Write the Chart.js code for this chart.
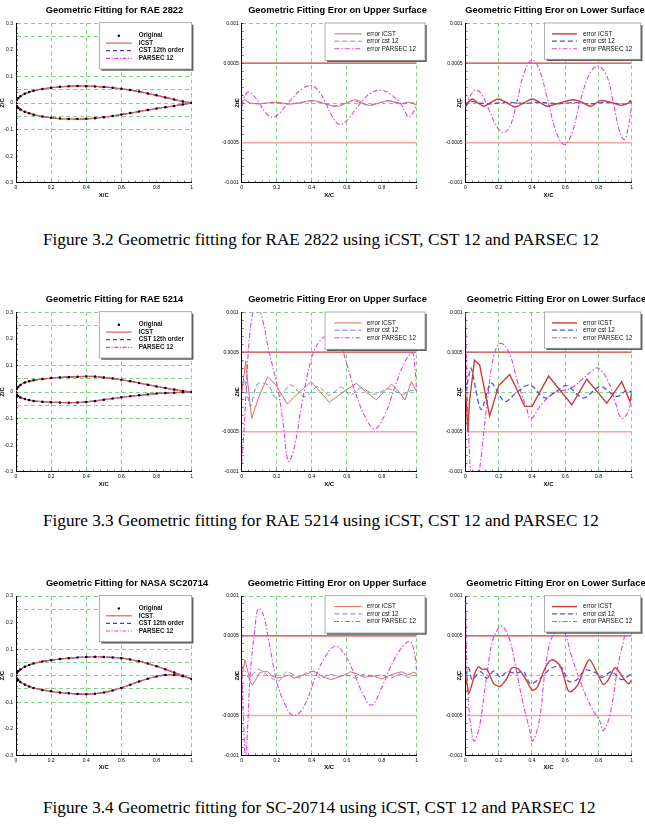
<!DOCTYPE html>
<html>
<head>
<meta charset="utf-8">
<script src="https://cdn.jsdelivr.net/npm/chart.js@4.4.1/dist/chart.umd.min.js"></script>
<style>
html, body { margin: 0; padding: 0; background: #fff; overflow: hidden; width: 645px; height: 825px; }
canvas { position: absolute; }
.caption { position: absolute; left: 43px; line-height: 20px; font-family: 'Liberation Serif', 'Times New Roman', serif; font-size: 17.2px; color: #000; white-space: nowrap; }
</style>
</head>
<body>
<div class="caption" style="top:230px">Figure 3.2 Geometric fitting for RAE 2822 using iCST, CST 12 and PARSEC 12</div>
<div class="caption" style="top:511px">Figure 3.3 Geometric fitting for RAE 5214 using iCST, CST 12 and PARSEC 12</div>
<div class="caption" style="top:798px">Figure 3.4 Geometric fitting for SC-20714 using iCST, CST 12 and PARSEC 12</div>
<script>
Chart.defaults.font.family = "'Liberation Sans', Arial, sans-serif";
Chart.defaults.color = '#000';

// axis ticks
const xTickMajor = [0, 0.2, 0.4, 0.6, 0.8, 1];
const shapeYMajor = [-0.3, -0.2, -0.1, 0, 0.1, 0.2, 0.3];
const shapeYGrid = [0.3, 0.25, 0.1, 0.05, 0, -0.05, -0.1];
const errYMajor = [-0.001, -0.0005, 0, 0.0005, 0.001];
const errYGrid = [0.001, 0];
const errLimits = [0.0005, -0.0005];
const xGridMid = [0.2, 0.4, 0.6, 1];
const xGridRight = [0.2, 0.4, 0.6, 0.8, 1];

// airfoil stations and surfaces
const foilX = [0, 0.005, 0.0125, 0.025, 0.05, 0.075, 0.1, 0.15, 0.2, 0.25, 0.3, 0.35, 0.4, 0.45, 0.5, 0.55, 0.6, 0.65, 0.7, 0.75, 0.8, 0.85, 0.9, 0.95, 1];
const rae2822Upper = [0, 0.0117, 0.018, 0.0251, 0.0346, 0.041, 0.0459, 0.053, 0.0578, 0.061, 0.0628, 0.0636, 0.0634, 0.0623, 0.0603, 0.0574, 0.0535, 0.0487, 0.0429, 0.0362, 0.0289, 0.0211, 0.0133, 0.0058, 0.0006];
const rae2822Lower = [0, -0.011, -0.0175, -0.0245, -0.033, -0.039, -0.044, -0.051, -0.0555, -0.0585, -0.06, -0.0603, -0.0595, -0.057, -0.0535, -0.049, -0.0435, -0.038, -0.032, -0.0265, -0.021, -0.016, -0.011, -0.0055, 0];
const rae5214Upper = [0, 0.012, 0.019, 0.0265, 0.0355, 0.0405, 0.044, 0.049, 0.0525, 0.0548, 0.0565, 0.0577, 0.0585, 0.058, 0.055, 0.051, 0.046, 0.0405, 0.034, 0.0275, 0.021, 0.015, 0.009, 0.0042, 0];
const rae5214Lower = [0, -0.01, -0.015, -0.0205, -0.0265, -0.0305, -0.0335, -0.0365, -0.0385, -0.0395, -0.04, -0.0395, -0.0375, -0.0335, -0.029, -0.0245, -0.02, -0.016, -0.0125, -0.009, -0.006, -0.004, -0.0025, -0.0012, 0];
const sc20714Upper = [0, 0.0105, 0.0165, 0.0235, 0.0335, 0.0405, 0.046, 0.0535, 0.0585, 0.0625, 0.0658, 0.0685, 0.0702, 0.0712, 0.0703, 0.0687, 0.066, 0.061, 0.0545, 0.0455, 0.0355, 0.024, 0.012, 0, -0.012];
const sc20714Lower = [0, -0.0105, -0.0165, -0.0235, -0.0335, -0.0405, -0.046, -0.0535, -0.059, -0.0635, -0.0665, -0.0685, -0.0695, -0.068, -0.063, -0.0555, -0.046, -0.034, -0.022, -0.0115, -0.003, 0.003, 0.003, -0.002, -0.012];

// fitting errors, [x/c, error in units of 1e-4]
const ERR_UNIT = 1e-4;
const rae2822UpIcst = [[0,0],[0.015,0.45],[0.04,0.05],[0.1,-0.1],[0.2,0.1],[0.28,-0.15],[0.4,0.3],[0.46,0.05],[0.54,-0.45],[0.6,0],[0.65,0.4],[0.73,-0.3],[0.8,0.1],[0.84,0.3],[0.9,-0.1],[0.96,0.1],[1,-0.3]];
const rae2822UpCst = [[0,-0.5],[0.02,0.3],[0.05,0],[0.1,-0.1],[0.18,0.1],[0.25,-0.1],[0.33,0.05],[0.4,0.25],[0.46,0],[0.53,-0.35],[0.6,0.05],[0.64,0.3],[0.72,-0.25],[0.8,0.1],[0.85,0.25],[0.92,-0.1],[0.97,0.05],[1,-0.2]];
const rae2822UpParsec = [[0,-0.2],[0.015,0.8],[0.038,1.4],[0.065,1.0],[0.1,0],[0.14,-1.3],[0.175,-1.8],[0.21,-1.4],[0.25,-0.4],[0.29,0.6],[0.34,1.7],[0.396,2.2],[0.44,1.5],[0.48,0],[0.52,-1.8],[0.56,-2.7],[0.61,-2.0],[0.65,-0.8],[0.69,0.3],[0.74,1.3],[0.8,1.6],[0.85,1.1],[0.905,0],[0.935,-1.2],[0.955,-1.75],[0.98,-1.2],[1,0]];
const rae2822LoIcst = [[0,-0.3],[0.04,0.5],[0.075,0],[0.11,-0.4],[0.155,0.1],[0.2,0.5],[0.25,0],[0.3,-0.5],[0.35,0],[0.4,0.5],[0.445,0.1],[0.49,-0.4],[0.55,-0.1],[0.6,0.2],[0.65,0.4],[0.7,0.1],[0.75,-0.4],[0.78,-0.1],[0.81,0.3],[0.87,0.1],[0.94,-0.3],[0.98,0],[0.99,0.3],[1,0]];
const rae2822LoCst = [[0,-0.5],[0.03,0.2],[0.08,0],[0.15,-0.1],[0.25,0.1],[0.35,-0.05],[0.45,0.1],[0.55,-0.1],[0.65,0.05],[0.75,-0.1],[0.85,0.1],[0.95,-0.15],[1,0.05]];
const rae2822LoParsec = [[0,-0.4],[0.02,0.5],[0.045,1.4],[0.066,1.65],[0.1,1.0],[0.14,-0.8],[0.19,-3.0],[0.23,-3.7],[0.27,-2.8],[0.31,0.2],[0.35,3.6],[0.4,5.4],[0.44,4.4],[0.49,0.8],[0.545,-3.6],[0.594,-5.2],[0.64,-3.8],[0.69,0.2],[0.75,3.8],[0.8,4.6],[0.85,3.4],[0.89,0],[0.925,-3.4],[0.956,-4.6],[0.98,-3.0],[1,-0.2]];
const rae5214UpIcst = [[0,0],[0.01,1.5],[0.023,3.9],[0.033,1.5],[0.057,-3.3],[0.1,-0.5],[0.148,1.9],[0.195,0.9],[0.26,-1.5],[0.33,0],[0.397,1.3],[0.45,0],[0.5,-1.3],[0.58,0],[0.655,1.1],[0.71,0],[0.77,-1],[0.81,0],[0.856,1],[0.9,0],[0.933,-1],[0.97,1.3],[1,0]];
const rae5214UpCst = [[0,0],[0.013,1.7],[0.03,0],[0.05,-1.8],[0.09,1.0],[0.15,0.9],[0.195,-0.75],[0.24,0],[0.28,0.9],[0.36,-0.6],[0.435,0.7],[0.5,-0.4],[0.57,0.6],[0.62,-0.4],[0.68,0.5],[0.76,-0.3],[0.84,0.4],[0.92,-0.3],[0.97,0.2],[1,0]];
const rae5214UpParsec = [[0,-9],[0.01,-6],[0.025,0],[0.045,7],[0.07,10.5],[0.09,11],[0.12,9],[0.152,5.5],[0.21,0],[0.24,-4.5],[0.267,-8.7],[0.3,-7],[0.343,-1.6],[0.4,4.3],[0.45,6.5],[0.5,7],[0.54,6.5],[0.571,5.5],[0.61,2.8],[0.648,0],[0.714,-3.5],[0.762,-4.6],[0.819,-2.8],[0.876,0.7],[0.933,3.8],[0.975,4.9],[0.99,3],[1,0]];
const rae5214LoIcst = [[0,0],[0.007,-2],[0.014,-5],[0.025,-1],[0.054,4],[0.085,3.4],[0.145,-3],[0.2,0.8],[0.266,2.2],[0.356,-1.8],[0.4,-1.8],[0.5,2],[0.64,-1.6],[0.73,1.6],[0.85,-1.4],[0.94,1.3],[0.99,-1.2],[1,-0.2]];
const rae5214LoCst = [[0,0],[0.015,1.5],[0.034,3],[0.06,0.5],[0.095,-2.2],[0.155,1.1],[0.235,-1.2],[0.31,0],[0.386,0.9],[0.477,-0.75],[0.54,0],[0.608,0.8],[0.708,-0.75],[0.81,0.7],[0.91,-0.55],[0.97,0.2],[1,0]];
const rae5214LoParsec = [[0,10],[0.01,0],[0.02,-6],[0.035,-11],[0.055,-13.5],[0.075,-11],[0.091,-8.7],[0.131,-1.2],[0.172,4.7],[0.212,6.1],[0.263,4.9],[0.313,1.3],[0.364,-1.8],[0.394,-3.3],[0.455,-1.6],[0.535,-0.1],[0.636,0.5],[0.697,1.5],[0.758,2.6],[0.798,3.0],[0.859,1.3],[0.9,-1.2],[0.939,-3.3],[0.98,-2.4],[1,0]];
const sc20714UpIcst = [[0,0],[0.01,1],[0.019,2],[0.03,1],[0.048,-0.7],[0.06,-1.2],[0.08,-0.5],[0.1,0.3],[0.12,0.5],[0.15,0.5],[0.17,0],[0.2,-0.3],[0.23,-0.2],[0.27,0.1],[0.3,-0.3],[0.343,0],[0.38,0.3],[0.41,0.6],[0.44,0.2],[0.47,-0.2],[0.514,-0.5],[0.55,-0.2],[0.59,0.1],[0.62,0.5],[0.66,0.2],[0.7,-0.2],[0.75,0],[0.8,-0.4],[0.84,0],[0.88,0.3],[0.914,0.5],[0.95,0.1],[0.98,0.4],[1,0.3]];
const sc20714UpCst = [[0,0.5],[0.02,0.6],[0.04,-0.3],[0.07,0.3],[0.095,0.8],[0.13,0.3],[0.17,-0.3],[0.21,-0.7],[0.24,0.1],[0.257,0.5],[0.29,0.2],[0.33,-0.3],[0.37,0.4],[0.41,0.5],[0.45,-0.3],[0.5,0.2],[0.55,-0.1],[0.6,0.1],[0.65,-0.3],[0.7,0.2],[0.75,-0.1],[0.8,0.1],[0.85,-0.3],[0.9,0.2],[0.95,-0.2],[1,0.1]];
const sc20714UpParsec = [[0,1.5],[0.01,-5],[0.022,-10.5],[0.035,-6],[0.048,0],[0.076,6],[0.095,8.4],[0.124,7.6],[0.152,4.7],[0.2,-0.7],[0.248,-3.6],[0.295,-5],[0.352,-4],[0.419,-0.3],[0.467,2],[0.533,3.7],[0.59,2.6],[0.648,0],[0.695,-2.4],[0.743,-3.7],[0.8,-1.5],[0.857,1.4],[0.914,3.5],[0.962,4.3],[0.99,2.5],[1,0.5]];
const sc20714LoIcst = [[0,0],[0.01,-1.1],[0.02,-2.2],[0.04,-1],[0.06,0.5],[0.08,1.1],[0.1,0.8],[0.13,0.8],[0.17,-1],[0.21,-1.3],[0.25,-0.3],[0.28,1],[0.32,0.8],[0.37,-0.7],[0.4,-1.8],[0.43,-1.5],[0.48,1],[0.52,2],[0.57,1.2],[0.616,-1.8],[0.636,-2],[0.677,-1.1],[0.717,1],[0.747,2],[0.8,0],[0.83,-1.1],[0.86,-0.5],[0.9,1],[0.94,0],[0.98,-1],[1,-0.5]];
const sc20714LoCst = [[0,0],[0.02,1],[0.04,-0.5],[0.09,0.5],[0.13,-0.3],[0.17,0.6],[0.21,-0.2],[0.25,0.5],[0.3,0.3],[0.35,0.5],[0.39,-1],[0.45,-0.3],[0.52,1],[0.58,1],[0.62,-0.7],[0.67,-0.5],[0.72,0.7],[0.78,0.4],[0.82,-0.2],[0.88,0.5],[0.94,-0.5],[1,0.3]];
const sc20714LoParsec = [[0,10.5],[0.01,0],[0.022,-4.5],[0.034,-6.5],[0.05,-8.2],[0.07,-7.5],[0.09,-5.7],[0.131,0.5],[0.162,4.3],[0.2,6],[0.222,6.2],[0.263,4.7],[0.303,1],[0.343,-3.2],[0.384,-6.6],[0.404,-8.2],[0.444,-5.6],[0.475,0],[0.505,3.9],[0.535,5.3],[0.57,5.8],[0.596,5.5],[0.636,2.6],[0.697,-1.1],[0.758,-4],[0.808,-5.7],[0.828,-6.9],[0.869,-4.9],[0.919,1.4],[0.95,4.3],[0.98,6.8],[1,6]];

const GREEN = 'rgb(96,204,96)';
const NONE = 'rgba(0,0,0,0)';

function steps(a, b, step) {
  const n = Math.round((b - a) / step), out = [];
  for (let i = 0; i <= n; i++) out.push(+(a + i * step).toFixed(6));
  return out;
}
const near = (list, v) => list.some(m => Math.abs(m - v) < 1e-9);
const labelOf = (list, v) => { const m = list.find(m => Math.abs(m - v) < 1e-9); return m === undefined ? '' : String(m); };

function contour(up, lo) {
  const pts = [];
  for (let i = foilX.length - 1; i >= 0; i--) pts.push({x: foilX[i], y: up[i]});
  for (let i = 1; i < foilX.length; i++) pts.push({x: foilX[i], y: lo[i]});
  return pts;
}
const errPts = pairs => pairs.map(p => ({x: p[0], y: p[1] * ERR_UNIT}));

// legend drawn as a framed box inside the plot, like the original figure
const boxLegend = {
  id: 'boxLegend',
  afterDatasetsDraw(chart, args, o) {
    const {ctx, chartArea: a} = chart;
    const L = a.left + o.left, T = a.top + o.top, R = a.right + o.right, B = a.top + o.bottom;
    ctx.save();
    ctx.fillStyle = '#fff';
    ctx.fillRect(L, T, R - L, B - T);
    ctx.strokeStyle = '#9a9a9a';
    ctx.lineWidth = 0.8;
    ctx.strokeRect(L, T, R - L, B - T);
    ctx.strokeStyle = '#606060';
    ctx.lineWidth = 1.5;
    ctx.beginPath();
    ctx.moveTo(R + 1, T + 2);
    ctx.lineTo(R + 1, B + 1);
    ctx.lineTo(L + 2, B + 1);
    ctx.stroke();
    const items = chart.data.datasets.filter(d => !d.hideInLegend);
    items.forEach((d, i) => {
      const y = a.top + o.rows[i];
      const x1 = a.left + o.lineFrom, x2 = a.left + o.lineTo;
      if (d.showLine === false) {
        ctx.fillStyle = d.pointBackgroundColor;
        ctx.beginPath();
        ctx.arc((x1 + x2) / 2, y, 1.2, 0, Math.PI * 2);
        ctx.fill();
      } else {
        ctx.strokeStyle = d.borderColor;
        ctx.lineWidth = d.legendWidth || d.borderWidth;
        ctx.setLineDash(d.borderDash || []);
        ctx.beginPath();
        ctx.moveTo(x1, y);
        ctx.lineTo(x2, y);
        ctx.stroke();
        ctx.setLineDash([]);
      }
      ctx.fillStyle = '#111';
      ctx.font = (o.bold ? 'bold ' : '') + '6.3px "Liberation Sans", Arial, sans-serif';
      ctx.textBaseline = 'middle';
      ctx.textAlign = 'left';
      ctx.fillText(d.label, a.left + o.textAt, y);
    });
    ctx.restore();
  }
};

const rowTops = [23.3, 312.3, 596];
const plotH = 159.4;
const cols = [{l: 16, r: 191.7, z: 2}, {l: 241.7, r: 416.7, z: 237}, {l: 465.5, r: 631.7, z: 459.3}];

const legendShape = {left: 83.3, top: -0.6, right: 0, bottom: 45.7, lineFrom: 90, lineTo: 115.7, textAt: 122.7, rows: [12.4, 19.8, 27.4, 35], bold: true};
const legendUpper = {left: 83.3, top: -0.3, right: 8.3, bottom: 37, lineFrom: 92.6, lineTo: 120, textAt: 125, rows: [10.6, 17.9, 25.5], bold: false};
const legendLower = {left: 79, top: -0.3, right: 9, bottom: 36, lineFrom: 86.5, lineTo: 111.5, textAt: 117.5, rows: [10.6, 17.9, 25.5], bold: false};

function shapeSets(up, lo) {
  const c = contour(up, lo);
  return [
    {label: 'Original', data: c, showLine: false, pointRadius: 1.25, pointBorderWidth: 0, pointBackgroundColor: '#000'},
    {label: 'ICST', data: c, showLine: true, borderColor: '#e05a5a', borderWidth: 1.2, pointRadius: 0, tension: 0.3},
    {label: 'CST 12th order', data: c, showLine: true, borderColor: '#3c3cd2', borderWidth: 1.2, borderDash: [4, 3], pointRadius: 0, tension: 0.3},
    {label: 'PARSEC 12', data: c, showLine: true, borderColor: '#e03ce0', borderWidth: 1.2, borderDash: [4, 1.5, 1.2, 1.5], pointRadius: 0, tension: 0.3}
  ];
}

function errSets(icst, cst, parsec, right, icstTension) {
  const lim = v => [{x: 0, y: v}, {x: 1, y: v}];
  return [
    {label: right ? 'error ICST' : 'error iCST', data: errPts(icst), showLine: true, pointRadius: 0,
      borderColor: right ? '#cc3c3c' : '#e06a6a', borderWidth: right ? 1.4 : 1, tension: icstTension},
    {label: 'error cst 12', data: errPts(cst), showLine: true, pointRadius: 0,
      borderColor: right ? '#5050dc' : '#7070dc', borderWidth: right ? 1.3 : 0.9, borderDash: [5, 3], tension: 0.3},
    {label: 'error PARSEC 12', data: errPts(parsec), showLine: true, pointRadius: 0,
      borderColor: '#e040e0', borderWidth: 1.1, borderDash: [5, 2, 1.5, 2], tension: 0.4},
    {label: '', hideInLegend: true, data: lim(errLimits[0]), showLine: true, pointRadius: 0, borderColor: '#c84040', borderWidth: 1.2},
    {label: '', hideInLegend: true, data: lim(errLimits[1]), showLine: true, pointRadius: 0, borderColor: '#f2a6a6', borderWidth: 1.5}
  ];
}

const panels = [
  {row: 0, col: 0, titleX: 114.5, title: 'Geometric Fitting for RAE 2822', kind: 'shape', sets: shapeSets(rae2822Upper, rae2822Lower)},
  {row: 0, col: 1, titleX: 337.5, title: 'Geometric Fitting Eror on Upper Surface', kind: 'mid', sets: errSets(rae2822UpIcst, rae2822UpCst, rae2822UpParsec, false, 0.3)},
  {row: 0, col: 2, titleX: 555, title: 'Geometric Fitting Eror on Lower Surface', kind: 'right', sets: errSets(rae2822LoIcst, rae2822LoCst, rae2822LoParsec, true, 0.3)},
  {row: 1, col: 0, titleX: 114.5, title: 'Geometric Fitting for RAE 5214', kind: 'shape', sets: shapeSets(rae5214Upper, rae5214Lower)},
  {row: 1, col: 1, titleX: 337.5, title: 'Geometric Fitting Eror on Upper Surface', kind: 'mid', sets: errSets(rae5214UpIcst, rae5214UpCst, rae5214UpParsec, false, 0)},
  {row: 1, col: 2, titleX: 556.5, title: 'Geometric Fitting Eror on Lower Surface', kind: 'right', sets: errSets(rae5214LoIcst, rae5214LoCst, rae5214LoParsec, true, 0)},
  {row: 2, col: 0, titleX: 127, title: 'Geometric Fitting for NASA SC20714', kind: 'shape', sets: shapeSets(sc20714Upper, sc20714Lower)},
  {row: 2, col: 1, titleX: 337, title: 'Geometric Fitting Eror on Upper Surface', kind: 'mid', sets: errSets(sc20714UpIcst, sc20714UpCst, sc20714UpParsec, false, 0)},
  {row: 2, col: 2, titleX: 556, title: 'Geometric Fitting Eror on Lower Surface', kind: 'right', sets: errSets(sc20714LoIcst, sc20714LoCst, sc20714LoParsec, true, 0.3)}
];

const xTickVals = steps(0, 1, 0.04);
const shapeYVals = [...new Set(steps(-0.3, 0.3, 0.02).concat(shapeYGrid))].sort((a, b) => a - b);
const errYVals = steps(-0.001, 0.001, 0.0001);

panels.forEach(p => {
  const c = cols[p.col];
  const top = rowTops[p.row], bottom = top + plotH;
  const cLeft = Math.floor(Math.min(c.l - 22, c.z - 6));
  const cTop = Math.floor(top - 18);
  const cW = Math.round(2 * (p.titleX - cLeft));
  const cH = Math.ceil(bottom + 22) - cTop;
  const yW = c.l - cLeft;
  const spacerW = cLeft + cW - c.r;
  const titleH = top - cTop;
  const xH = cTop + cH - bottom;

  const canvas = document.createElement('canvas');
  canvas.width = cW;
  canvas.height = cH;
  canvas.style.left = cLeft + 'px';
  canvas.style.top = cTop + 'px';
  document.body.appendChild(canvas);

  const shape = p.kind === 'shape';
  const yVals = shape ? shapeYVals : errYVals;
  const yMajor = shape ? shapeYMajor : errYMajor;
  const yGrid = shape ? shapeYGrid : errYGrid;
  const xGrid = p.kind === 'right' ? xGridRight : xGridMid;
  const legend = shape ? legendShape : (p.kind === 'mid' ? legendUpper : legendLower);

  new Chart(canvas, {
    type: 'scatter',
    data: {datasets: p.sets},
    plugins: [boxLegend],
    options: {
      responsive: false,
      animation: false,
      devicePixelRatio: 1,
      layout: {padding: 0},
      plugins: {
        legend: {display: false},
        tooltip: {enabled: false},
        title: {
          display: true, text: p.title, align: 'center', fullSize: true, color: '#000',
          font: {size: 9.3, weight: 'bold', lineHeight: 1.2},
          padding: {top: 0, bottom: titleH - 9.3 * 1.2}
        },
        boxLegend: legend
      },
      scales: {
        x: {
          type: 'linear', min: 0, max: 1,
          afterBuildTicks: s => { s.ticks = xTickVals.map(v => ({value: v})); },
          afterFit: s => { s.height = xH; },
          ticks: {autoSkip: false, maxRotation: 0, padding: 4, color: '#000', font: {size: 5}, callback: v => labelOf(xTickMajor, v)},
          grid: {color: ctx => near(xGrid, ctx.tick.value) ? GREEN : NONE, lineWidth: 0.8, tickLength: -2, tickColor: '#000', tickWidth: 0.6},
          border: {display: true, color: '#000', width: 1, dash: [4, 3]},
          title: {display: true, text: 'X/C', color: '#000', font: {size: 6, weight: 'bold'}, padding: {top: 0, bottom: xH - 15.9}}
        },
        y: {
          type: 'linear', min: yMajor[0], max: yMajor[yMajor.length - 1],
          afterBuildTicks: s => { s.ticks = yVals.map(v => ({value: v})); },
          afterFit: s => { s.width = yW; },
          ticks: {autoSkip: false, padding: 5, color: '#000', font: {size: 5}, callback: v => labelOf(yMajor, v)},
          grid: {
            color: ctx => near(yGrid, ctx.tick.value) ? GREEN : NONE,
            lineWidth: 0.8, tickLength: -2, tickWidth: 0.6,
            tickColor: ctx => (shape && (near([0.25, 0.05, -0.05], ctx.tick.value))) ? NONE : '#000'
          },
          border: {display: true, color: '#000', width: 1, dash: [4, 3]},
          title: {display: true, text: 'Z/C', color: '#000', font: {size: 6, weight: 'bold'}, padding: {top: c.z - 3.6 - cLeft, bottom: 0}}
        },
        spacer: {
          type: 'linear', position: 'right', display: true,
          afterFit: s => { s.width = spacerW; },
          grid: {display: false, drawOnChartArea: false, drawTicks: false},
          border: {display: false},
          ticks: {display: false}
        }
      }
    }
  });
});
</script>
</body>
</html>
